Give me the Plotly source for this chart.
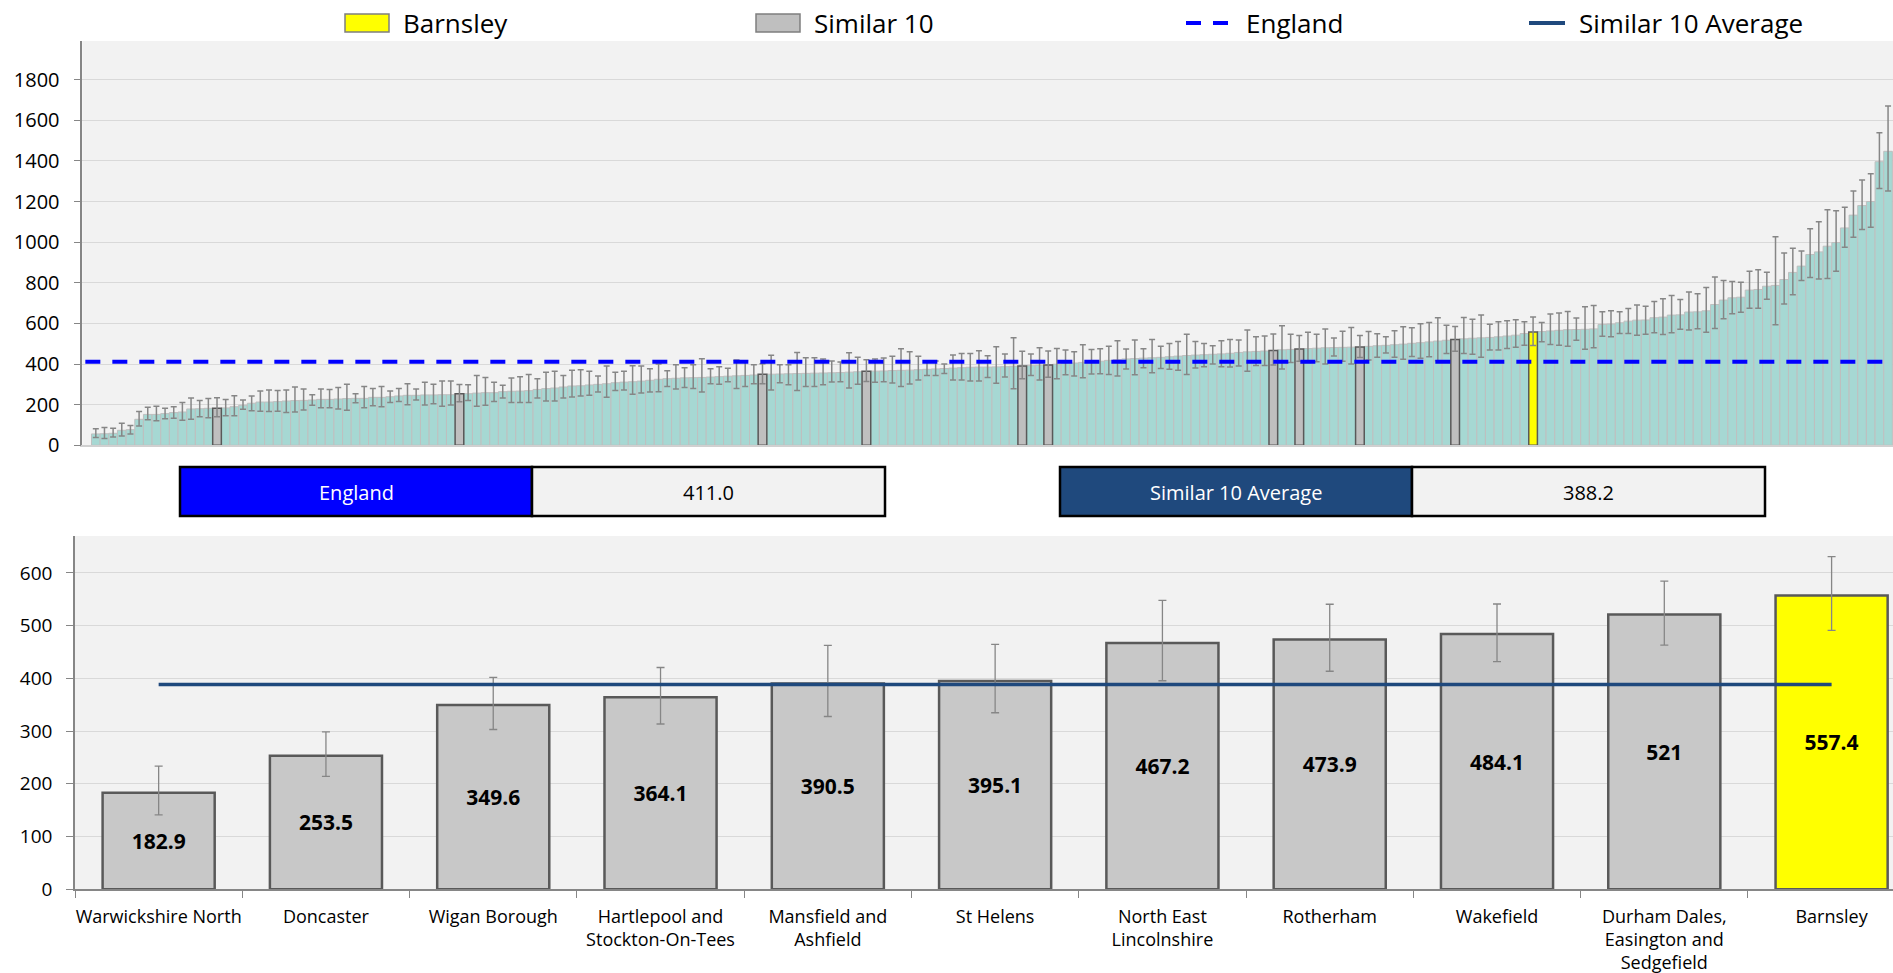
import plotly.graph_objects as go

W, H = 1893, 973
FONT = "Open Sans"

# national ranking, directly standardised rate (sorted ascending)
national_rate = [
    56, 57, 59, 74, 77, 128, 152, 152, 156, 161, 164, 179, 180, 182, 182.9, 184, 190, 197, 207, 213,
    213, 215, 218, 220, 221, 223, 226, 226, 228, 230, 231, 231, 236, 236, 239, 243, 246, 246, 248, 248,
    249, 249, 253.5, 254, 257, 259, 259, 264, 266, 267, 269, 275, 279, 282, 287, 292, 293, 297, 300, 303,
    308, 311, 313, 316, 320, 325, 328, 330, 332, 333, 334, 336, 338, 340, 342, 344, 346, 349.6, 350, 351,
    352, 353, 354, 355, 356, 357, 358, 360, 362, 364.1, 365, 366, 368, 369, 370, 372, 374, 376, 378, 380,
    382, 384, 385, 385, 386, 387, 389, 390.5, 392, 394, 395.1, 399, 402, 405, 408, 411, 414, 418, 422, 425,
    427, 429, 431, 433, 436, 439, 442, 444, 446, 448, 450, 453, 457, 460, 462, 464, 467.2, 470, 472, 473.9,
    476, 478, 480, 481, 482, 483, 484.1, 487, 490, 492, 495, 498, 502, 505, 509, 513, 517, 521, 524, 527,
    529, 531, 534, 538, 542, 550, 557.4, 560, 563, 566, 569, 570, 571, 573, 595, 597, 603, 611, 616, 617,
    628, 631, 641, 642, 656, 657, 662, 693, 715, 726, 729, 764, 767, 783, 787, 816, 851, 882, 939, 952,
    980, 998, 1070, 1133, 1180, 1200, 1396, 1447,
]
national_upper = [
    82, 88, 84, 108, 97, 166, 187, 192, 182, 190, 211, 233, 221, 230, 233.5, 226, 244, 223, 243, 267,
    272, 270, 272, 287, 277, 249, 277, 275, 285, 300, 254, 289, 280, 289, 267, 279, 303, 277, 310, 300,
    316, 316, 298.7, 298, 343, 334, 310, 295, 331, 338, 348, 328, 359, 364, 344, 369, 372, 364, 341, 390,
    359, 364, 392, 390, 377, 400, 367, 397, 382, 397, 426, 377, 387, 379, 420, 416, 397, 402, 443, 397,
    397, 457, 431, 431, 425, 415, 410, 456, 433, 420.6, 425, 430, 438, 475, 461, 438, 413, 415, 400, 444,
    452, 452, 465, 441, 485, 449, 529, 462.6, 449, 480, 464.5, 477, 469, 460, 495, 472, 475, 487, 514, 474,
    518, 475, 521, 488, 501, 511, 546, 511, 501, 490, 515, 521, 518, 567, 534, 538, 548, 588, 546, 540.6,
    556, 547, 572, 528, 561, 580, 541, 560, 549, 534, 564, 584, 578, 598, 604, 628, 591, 584.5, 629, 620,
    641, 596, 608, 613, 618, 608, 631, 605, 646, 651, 659, 627, 682, 688, 657, 662, 657, 673, 691, 685,
    708, 721, 737, 718, 754, 746, 777, 828, 811, 806, 802, 857, 864, 852, 1026, 947, 970, 956, 1066, 1100,
    1160, 1155, 1172, 1252, 1306, 1337, 1539, 1670,
]
national_lower = [
    38, 34, 41, 46, 56, 95, 126, 121, 131, 133, 123, 128, 141, 136, 141, 146, 146, 177, 170, 167,
    166, 167, 162, 164, 174, 197, 185, 185, 179, 172, 210, 185, 195, 190, 211, 216, 200, 223, 198, 205,
    192, 198, 214, 220, 192, 197, 216, 233, 211, 211, 211, 233, 218, 218, 233, 238, 243, 246, 262, 236,
    270, 272, 251, 257, 262, 264, 289, 277, 284, 280, 262, 303, 300, 313, 280, 289, 303, 303, 272, 308,
    298, 270, 289, 290, 298, 311, 313, 282, 300, 313.5, 310, 313, 307, 289, 302, 321, 343, 343, 354, 321,
    321, 316, 316, 334, 305, 336, 278, 327.7, 344, 321, 334.8, 328, 347, 341, 332, 351, 352, 349, 341, 375,
    347, 382, 357, 378, 374, 370, 349, 380, 387, 400, 387, 385, 390, 364, 393, 393, 395.5, 375, 408, 413.5,
    408, 411, 400, 439, 414, 400, 431.6, 420, 434, 454, 434, 424, 437, 428, 436, 416, 452, 463, 452, 448,
    433, 469, 469, 477, 482, 493, 491, 510, 496, 493, 488, 517, 473, 480, 537, 534, 550, 550, 542, 547,
    554, 545, 554, 571, 567, 574, 557, 575, 623, 647, 655, 675, 675, 719, 593, 695, 741, 811, 826, 819,
    821, 857, 975, 1024, 1062, 1073, 1264, 1252,
]

similar_names = [
    "Warwickshire North", "Doncaster", "Wigan Borough", "Hartlepool and<br>Stockton-On-Tees",
    "Mansfield and<br>Ashfield", "St Helens", "North East<br>Lincolnshire", "Rotherham",
    "Wakefield", "Durham Dales,<br>Easington and<br>Sedgefield", "Barnsley",
]
similar_rate = [182.9, 253.5, 349.6, 364.1, 390.5, 395.1, 467.2, 473.9, 484.1, 521, 557.4]
similar_upper = [233.5, 298.7, 402, 420.6, 462.6, 464.5, 548, 540.6, 541, 584.5, 631]
similar_lower = [141, 214, 303, 313.5, 327.7, 334.8, 395.5, 413.5, 431.6, 463, 491]
similar_rank = [14, 42, 77, 89, 107, 110, 136, 139, 146, 157, 166]

local_area = "Barnsley"
england_rate = 411.0

peers = [r for n, r in zip(similar_names, similar_rank) if n != local_area]
local_rank = similar_rank[similar_names.index(local_area)]
peer_rates = [v for n, v in zip(similar_names, similar_rate) if n != local_area]
similar_avg = sum(peer_rates) / len(peer_rates)

TEAL = "#a6d8d3"
GREY = "#bfbfbf"
YELLOW = "#ffff00"
NAVY = "#1f497d"
BLUE = "#0000ff"


def px_x(p):
    return p / W


def px_y(p):
    return 1 - p / H


def top_bars(ranks, colour, outline, lw):
    ys = [national_rate[i] for i in ranks]
    up = [national_upper[i] - national_rate[i] for i in ranks]
    dn = [national_rate[i] - national_lower[i] for i in ranks]
    return go.Bar(
        x=ranks, y=ys, width=1, xaxis="x", yaxis="y",
        marker=dict(color=colour, line=dict(color=outline, width=lw)),
        error_y=dict(type="data", symmetric=False, array=up, arrayminus=dn,
                     color="#868686", thickness=1.5, width=3),
        showlegend=False, hoverinfo="skip",
    )


others = [i for i in range(len(national_rate)) if i not in similar_rank]
top_x_range = [-1.56, 207.57]

fig = go.Figure()
fig.add_trace(top_bars(others, TEAL, "#bfbfbf", 1))
fig.add_trace(top_bars(peers, GREY, "#595959", 1.5))
fig.add_trace(top_bars([local_rank], YELLOW, "#595959", 1.5))
fig.add_trace(go.Scatter(
    x=[top_x_range[0] + 0.35, top_x_range[1]], y=[england_rate, england_rate],
    mode="lines", line=dict(color=BLUE, width=4, dash="15px,12px"),
    xaxis="x", yaxis="y", showlegend=False, hoverinfo="skip",
))

# bottom chart: similar 10 comparison
fig.add_trace(go.Bar(
    x=similar_names, y=similar_rate, width=0.67, xaxis="x2", yaxis="y2",
    marker=dict(color=[YELLOW if n == local_area else "#c8c8c8" for n in similar_names],
                line=dict(color="#595959", width=2.5)),
    text=[f"<b>{v:g}</b>" for v in similar_rate],
    textposition="inside", insidetextanchor="middle", textangle=0,
    textfont=dict(family=FONT, size=21, color="black"),
    error_y=dict(type="data", symmetric=False,
                 array=[u - v for u, v in zip(similar_upper, similar_rate)],
                 arrayminus=[v - l for v, l in zip(similar_rate, similar_lower)],
                 color="#868686", thickness=1.3, width=4),
    showlegend=False, hoverinfo="skip",
))
fig.add_trace(go.Scatter(
    x=[similar_names[0], similar_names[-1]], y=[similar_avg, similar_avg],
    mode="lines", line=dict(color=NAVY, width=3.5),
    xaxis="x2", yaxis="y2", showlegend=False, hoverinfo="skip",
))

shapes = []
annotations = []

# legend row drawn by hand
legend_y = 23
shapes.append(dict(type="rect", xref="paper", yref="paper", x0=px_x(345), x1=px_x(389),
                   y0=px_y(32), y1=px_y(14), fillcolor=YELLOW, line=dict(color="#7f7f7f", width=1.5)))
shapes.append(dict(type="rect", xref="paper", yref="paper", x0=px_x(756), x1=px_x(800),
                   y0=px_y(32), y1=px_y(14), fillcolor=GREY, line=dict(color="#7f7f7f", width=1.5)))
shapes.append(dict(type="line", xref="paper", yref="paper", x0=px_x(1186), x1=px_x(1229),
                   y0=px_y(legend_y), y1=px_y(legend_y), line=dict(color=BLUE, width=4, dash="15px,12px")))
shapes.append(dict(type="line", xref="paper", yref="paper", x0=px_x(1529), x1=px_x(1565),
                   y0=px_y(legend_y), y1=px_y(legend_y), line=dict(color=NAVY, width=4)))
for label, x in [("Barnsley", 401), ("Similar 10", 812), ("England", 1244), ("Similar 10 Average", 1577)]:
    annotations.append(dict(text=label, xref="paper", yref="paper", x=px_x(x), y=px_y(legend_y),
                            xanchor="left", yanchor="middle", showarrow=False,
                            font=dict(family=FONT, size=26, color="black")))

# summary boxes
for (left, mid, right, colour, label, value) in [
    (180, 532, 885, BLUE, "England", f"{england_rate:.1f}"),
    (1060, 1412, 1765, NAVY, "Similar 10 Average", f"{similar_avg:.1f}"),
]:
    shapes.append(dict(type="rect", xref="paper", yref="paper", x0=px_x(left), x1=px_x(mid),
                       y0=px_y(516), y1=px_y(467), fillcolor=colour, line=dict(color="black", width=2.5)))
    shapes.append(dict(type="rect", xref="paper", yref="paper", x0=px_x(mid), x1=px_x(right),
                       y0=px_y(516), y1=px_y(467), fillcolor="#f2f2f2", line=dict(color="black", width=2.5)))
    annotations.append(dict(text=label, xref="paper", yref="paper", x=px_x((left + mid) / 2), y=px_y(492),
                            xanchor="center", yanchor="middle", showarrow=False,
                            font=dict(family=FONT, size=20, color="white")))
    annotations.append(dict(text=value, xref="paper", yref="paper", x=px_x((mid + right) / 2), y=px_y(492),
                            xanchor="center", yanchor="middle", showarrow=False,
                            font=dict(family=FONT, size=20, color="black")))

axis_grey = "#868686"
fig.update_layout(
    width=W, height=H,
    margin=dict(l=0, r=0, t=0, b=0, autoexpand=False),
    paper_bgcolor="white", plot_bgcolor="#f2f2f2",
    barmode="overlay",
    font=dict(family=FONT, color="black"),
    shapes=shapes, annotations=annotations,
    xaxis=dict(domain=[px_x(82.3), 1], range=top_x_range, showticklabels=False, ticks="",
               showgrid=False, zeroline=False, showline=True, linecolor="#d0d0d0", linewidth=1.5,
               anchor="y", automargin=False),
    yaxis=dict(domain=[px_y(445.3), px_y(41)], range=[0, 1990], tick0=0, dtick=200,
               gridcolor="#d9d9d9", gridwidth=1.3, zeroline=False, showline=True,
               linecolor=axis_grey, linewidth=1.5, ticks="outside", ticklen=7, tickcolor=axis_grey,
               tickfont=dict(family=FONT, size=20, color="black"), ticklabelstandoff=10,
               anchor="x", automargin=False),
    xaxis2=dict(domain=[px_x(75), 1], type="category", range=[-0.5, 10.367], tickson="boundaries",
                ticks="outside", ticklen=7, tickcolor=axis_grey, showgrid=False, zeroline=False,
                showline=True, linecolor=axis_grey, linewidth=1.5, tickangle=0, ticklabelstandoff=10,
                tickfont=dict(family=FONT, size=18, color="black"), anchor="y2", automargin=False),
    yaxis2=dict(domain=[px_y(889.3), px_y(536)], range=[0, 670], tick0=0, dtick=100,
                gridcolor="#d9d9d9", gridwidth=1.3, zeroline=False, showline=True,
                linecolor=axis_grey, linewidth=1.5, ticks="outside", ticklen=7, tickcolor=axis_grey,
                tickfont=dict(family=FONT, size=19, color="black"), ticklabelstandoff=10,
                anchor="x2", automargin=False),
)

fig.write_html("out.html", config={"displayModeBar": False},
               post_script="document.body.style.margin='0';document.body.style.overflow='hidden';")
